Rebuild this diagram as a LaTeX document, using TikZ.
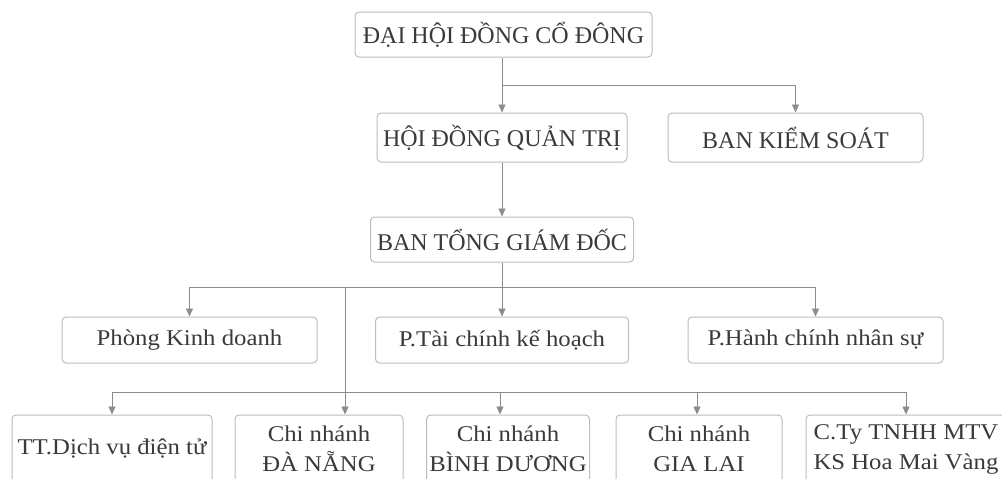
\documentclass[tikz,border=0pt]{standalone}
\usepackage{fontspec}
\usetikzlibrary{arrows.meta}
\newfontfamily\capsf{Liberation Serif}
\newfontfamily\lowf[FakeStretch=1.1]{Liberation Serif}
\definecolor{txt}{HTML}{3A3A3A}
\definecolor{ln}{HTML}{8C8C8C}
\definecolor{bx}{HTML}{BDBDBD}
\tikzset{
  box/.style={draw=bx, line width=1pt, rounded corners=4pt, text=txt, inner sep=0pt, align=center},
  capbox/.style={box, font=\capsf\fontsize{24}{28}\selectfont},
  lowbox/.style={box, font=\lowf\fontsize{22.5}{30}\selectfont},
  link/.style={draw=ln, line width=0.9pt},
  arr/.style={link, -{Triangle[width=7pt,length=8pt]}}
}
\begin{document}
\begin{tikzpicture}[x=1pt,y=-1pt]
\useasboundingbox (0,0) rectangle (1002,479);
\fill[white] (0,0) rectangle (1002,479);
\clip (0,0) rectangle (1002,479);
% level 1-2
\node[capbox, minimum width=297, minimum height=45] (dhd) at (503.5,34.5) {ĐẠI HỘI ĐỒNG CỔ ĐÔNG};
\node[capbox, minimum width=250, minimum height=49] (hdqt) at (502,137.5) {HỘI ĐỒNG QUẢN TRỊ};
\node[capbox, minimum width=255, minimum height=49] (bks) at (795.5,137.5) {BAN KIỂM SOÁT};
\node[capbox, minimum width=263, minimum height=45] (btgd) at (502,239.5) {BAN TỔNG GIÁM ĐỐC};
% level 3
\node[lowbox, minimum width=255, minimum height=46] (pkd) at (189.5,340) {Phòng Kinh doanh};
\node[lowbox, minimum width=253, minimum height=46] (ptc) at (502,340) {P.Tài chính kế hoạch};
\node[lowbox, minimum width=255, minimum height=46] (phc) at (815.5,340) {P.Hành chính nhân sự};
% level 4
\node[lowbox, minimum width=200, minimum height=68] (tt) at (112,449) {\raisebox{-9pt}{TT.Dịch vụ điện tử}};
\node[lowbox, minimum width=168, minimum height=68] (dn) at (319,449) {Chi nhánh\\ĐÀ NẴNG};
\node[lowbox, minimum width=163, minimum height=68] (bd) at (508,449) {Chi nhánh\\BÌNH DƯƠNG};
\node[lowbox, minimum width=166, minimum height=68] (gl) at (699,449) {Chi nhánh\\GIA LAI};
\node[lowbox, minimum width=200, minimum height=68] (cty) at (906,449) {C.Ty TNHH MTV\\KS Hoa Mai Vàng};
% connectors
\coordinate (b1) at (502,85);
\draw[arr] (dhd.south -| b1) -- (hdqt.north -| b1);
\draw[arr] (b1) -| (bks.north);
\draw[arr] (hdqt.south) -- (btgd.north);
\coordinate (busA) at (502,287);
\draw[link] (pkd.north |- busA) -- (phc.north |- busA);
\draw[arr] (pkd.north |- busA) -- (pkd.north);
\draw[arr] (phc.north |- busA) -- (phc.north);
\draw[arr] (btgd.south) -- (ptc.north);
\coordinate (tap) at (345,287);
\coordinate (busB) at (345,392);
\coordinate (xbd) at (500,392);
\coordinate (xgl) at (697,392);
\draw[link] (tt.north |- busB) -- (cty.north |- busB);
\draw[arr] (tap) -- (tap |- dn.north);
\draw[arr] (tt.north |- busB) -- (tt.north);
\draw[arr] (xbd) -- (xbd |- bd.north);
\draw[arr] (xgl) -- (xgl |- gl.north);
\draw[arr] (cty.north |- busB) -- (cty.north);
\end{tikzpicture}
\end{document}
